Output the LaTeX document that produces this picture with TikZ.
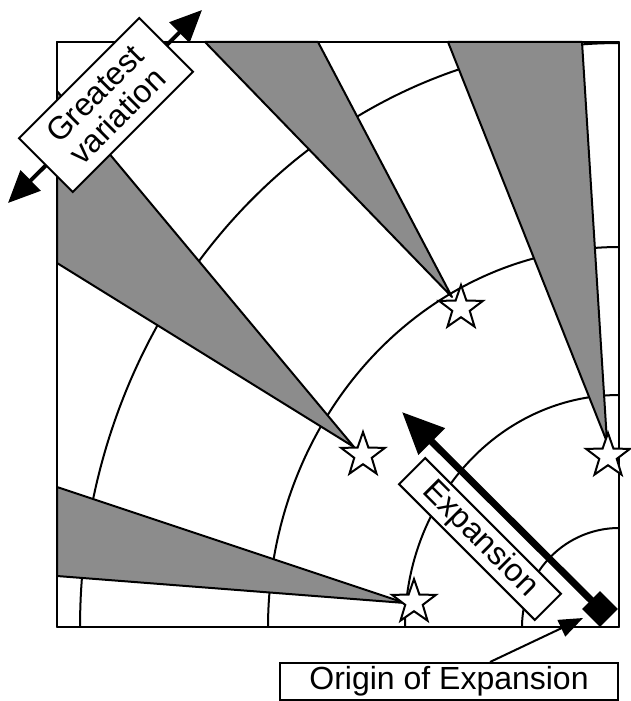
\documentclass[tikz,border=0pt]{standalone}
\usepackage{fontspec}
\setmainfont{Liberation Sans}
\usetikzlibrary{shapes.geometric,arrows.meta}
\definecolor{wedgegray}{RGB}{140,140,140}
\tikzset{
  outline/.style={line width=2pt, line join=round},
  arcline/.style={line width=2pt},
  wedge/.style={outline, fill=wedgegray},
  starnode/.style={star, star points=5, star point ratio=2.5, minimum size=46pt, inner sep=0pt, draw, line width=2pt, fill=white},
  labelbox/.style={draw, fill=white, line width=2pt, inner sep=0pt, font=\fontsize{32}{34}\selectfont, align=center},
  expandarrow/.style={line width=7pt, -{Triangle[length=42pt,width=36pt]}},
  pointer/.style={line width=2pt, -{Triangle[length=24pt,width=18pt]}},
  variation/.style={line width=4pt, {Triangle[length=32pt,width=28pt]}-{Triangle[length=32pt,width=28pt]}}
}
\begin{document}
\begin{tikzpicture}[x=1pt,y=-1pt]
\useasboundingbox (0,0) rectangle (630,701);
% frame
\draw[outline, fill=white] (57,42) rectangle (619,627);
% arcs (quarter ellipses about the bottom-right corner)
\draw[arcline] plot[domain=90:180, samples=60] ({619+97*cos(\x)}, {627-99*sin(\x)});
\draw[arcline] plot[domain=90:180, samples=80] ({619+214*cos(\x)}, {627-232*sin(\x)});
\draw[arcline] plot[domain=90:180, samples=100] ({619+351*cos(\x)}, {627-380*sin(\x)});
\draw[arcline] plot[domain=90:180, samples=120] ({619+539*cos(\x)}, {627-584*sin(\x)});
% wedges
\draw[wedge] (452,297) -- (205,42) -- (318,42) -- cycle;
\draw[wedge] (607,442) -- (448,42) -- (582,42) -- cycle;
\draw[wedge] (354,447) -- (57,91) -- (57,263) -- cycle;
\draw[wedge] (405,603) -- (57,487) -- (57,576) -- cycle;
% frame border on top
\draw[outline] (57,42) rectangle (619,627);
% stars
\node[starnode] (s1) at (461,308) {};
\node[starnode] (s2) at (608,456) {};
\node[starnode] (s3) at (363,455) {};
\node[starnode] (s4) at (414,602) {};
% origin and expansion
\node[diamond, fill=black, minimum width=36pt, minimum height=36pt, inner sep=0pt] (origin) at (600,609) {};
\coordinate (exptip) at (402,412);
\draw[expandarrow] (origin.center) -- (exptip);
\node[labelbox, rotate=-45, minimum width=192pt, minimum height=37pt] (explabel) at (480,539) {Expansion};
% origin label
\node[labelbox, minimum width=338pt, minimum height=37pt] (originlabel) at (449,681.5) {Origin of Expansion};
\coordinate (ptip) at (583,618);
\draw[pointer] (originlabel.north) ++(41,0) coordinate (pstart) (pstart) -- (ptip);
% greatest variation
\coordinate (gv1) at (8,203);
\coordinate (gv2) at (202,10);
\draw[variation] (gv1) -- (gv2);
\node[labelbox, rotate=45, minimum width=170pt, minimum height=76pt] (gvlabel) at (106,105) {Greatest\\[-2pt]variation};
\end{tikzpicture}
\end{document}
